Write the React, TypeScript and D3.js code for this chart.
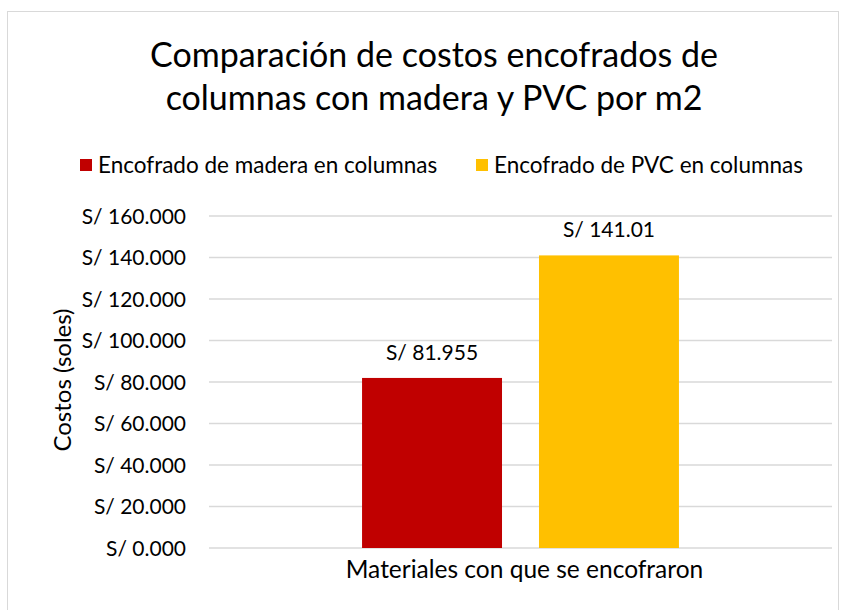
import { useEffect, useRef } from 'react';
import * as d3 from 'd3';

// Chart data
const categories = ['Materiales con que se encofraron'];
const seriesNames = ['Encofrado de madera en columnas', 'Encofrado de PVC en columnas'];
const seriesValues = [81.955, 141.01];
const valueLabels = ['S/ 81.955', 'S/ 141.01'];
const seriesColors = ['#C00000', '#FFC000'];
const yTicks = [0, 20, 40, 60, 80, 100, 120, 140, 160];
const titleLines = ['Comparación de costos encofrados de', 'columnas con madera y PVC por m2'];
const yAxisTitle = 'Costos (soles)';

const W = 845;
const H = 610;
const FONT = 'Lato, "Open Sans", sans-serif';

const App = () => {
  const svgRef = useRef<SVGSVGElement>(null);

  useEffect(() => {
    document.body.style.margin = '0';
    const svg = d3.select(svgRef.current);
    svg.selectAll('*').remove();

    const plot = { left: 209, right: 832, top: 216, bottom: 548 };

    // Chart border
    svg
      .append('rect')
      .attr('x', 7.5)
      .attr('y', 11.5)
      .attr('width', 831)
      .attr('height', 620)
      .attr('fill', 'white')
      .attr('stroke', '#d9d9d9')
      .attr('stroke-width', 1);

    const y = d3.scaleLinear().domain([0, 160]).range([plot.bottom, plot.top]);

    const x0 = d3.scaleBand().domain(categories).range([plot.left, plot.right]).padding(0);
    const x1 = d3
      .scaleBand()
      .domain(seriesNames)
      .range([0, x0.bandwidth()])
      .paddingInner(0.209)
      .paddingOuter(0.865);

    // Gridlines
    svg
      .append('g')
      .selectAll('line')
      .data(yTicks)
      .enter()
      .append('line')
      .attr('x1', plot.left)
      .attr('x2', plot.right)
      .attr('y1', (d) => y(d))
      .attr('y2', (d) => y(d))
      .attr('stroke', '#d9d9d9')
      .attr('stroke-width', 1.3);

    // Y tick labels
    svg
      .append('g')
      .selectAll('text')
      .data(yTicks)
      .enter()
      .append('text')
      .attr('x', 186)
      .attr('y', (d) => y(d) + 7.5)
      .attr('text-anchor', 'end')
      .style('font-family', FONT)
      .style('font-size', '21px')
      .attr('fill', '#000')
      .text((d) => 'S/ ' + d3.format('.3f')(d));

    // Bars
    const rows = seriesNames.map((name, i) => ({
      name,
      value: seriesValues[i],
      label: valueLabels[i],
      color: seriesColors[i],
    }));

    const g = svg.append('g').attr('transform', `translate(${x0(categories[0])},0)`);

    g.selectAll('rect')
      .data(rows)
      .enter()
      .append('rect')
      .attr('x', (d) => x1(d.name))
      .attr('y', (d) => y(d.value))
      .attr('width', x1.bandwidth())
      .attr('height', (d) => y(0) - y(d.value))
      .attr('fill', (d) => d.color);

    g.selectAll('text.val')
      .data(rows)
      .enter()
      .append('text')
      .attr('class', 'val')
      .attr('x', (d) => x1(d.name) + x1.bandwidth() / 2)
      .attr('y', (d) => y(d.value) - 18)
      .attr('text-anchor', 'middle')
      .style('font-family', FONT)
      .style('font-size', '21px')
      .attr('fill', '#000')
      .text((d) => d.label);

    // X category label
    svg
      .append('text')
      .attr('x', x0(categories[0]) + x0.bandwidth() / 2 + 4)
      .attr('y', 578)
      .attr('text-anchor', 'middle')
      .style('font-family', FONT)
      .style('font-size', '24.5px')
      .attr('fill', '#000')
      .text(categories[0]);

    // Y axis title
    svg
      .append('text')
      .attr('transform', `translate(71,380) rotate(-90)`)
      .attr('text-anchor', 'middle')
      .style('font-family', FONT)
      .style('font-size', '24px')
      .attr('fill', '#000')
      .text(yAxisTitle);

    // Title
    svg
      .append('g')
      .selectAll('text')
      .data(titleLines)
      .enter()
      .append('text')
      .attr('x', 434)
      .attr('y', (d, i) => 67 + i * 43)
      .attr('text-anchor', 'middle')
      .style('font-family', FONT)
      .style('font-size', '34px')
      .attr('fill', '#000')
      .text((d) => d);

    // Legend
    const legendX = [80, 476];
    const legend = svg
      .append('g')
      .selectAll('g')
      .data(rows)
      .enter()
      .append('g')
      .attr('transform', (d, i) => `translate(${legendX[i]},159)`);

    legend
      .append('rect')
      .attr('width', 12)
      .attr('height', 12)
      .attr('fill', (d) => d.color);

    legend
      .append('text')
      .attr('x', 18)
      .attr('y', 13.5)
      .style('font-family', FONT)
      .style('font-size', '22.5px')
      .attr('fill', '#000')
      .text((d) => d.name);
  }, []);

  return <svg ref={svgRef} width={W} height={H} style={{ display: 'block' }}></svg>;
};

export default App;
